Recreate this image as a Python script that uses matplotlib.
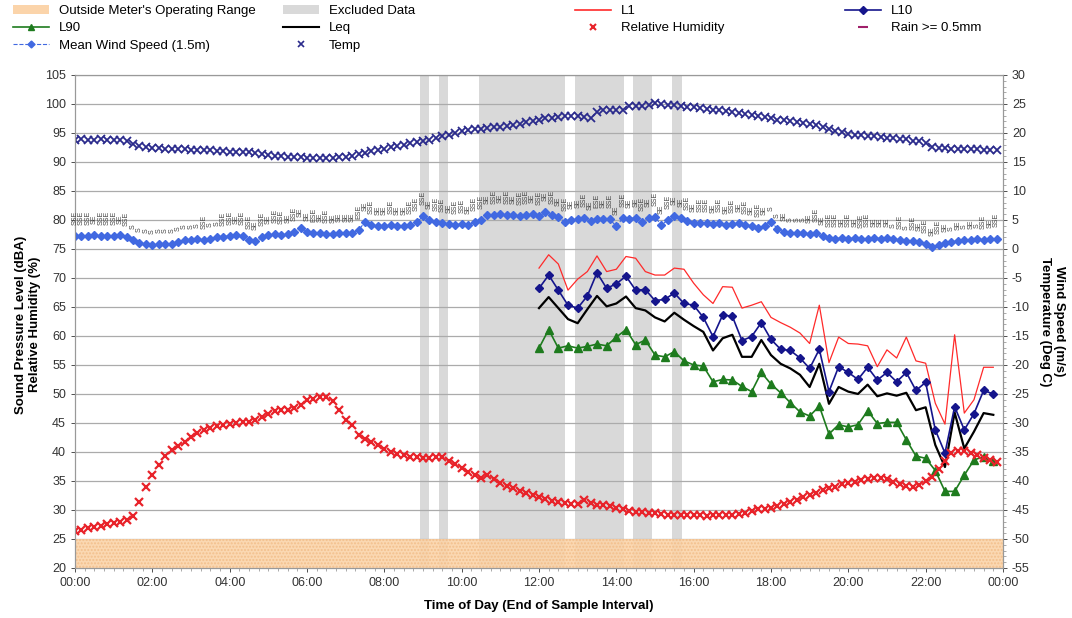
import numpy as np
import matplotlib.pyplot as plt
from matplotlib.patches import Patch
from matplotlib.lines import Line2D

plt.rcParams['font.family'] = ['Liberation Sans', 'DejaVu Sans']
plt.rcParams['axes.unicode_minus'] = False

# 10-minute weather data, 00:00 .. 23:50
temp = [18.8, 18.9, 18.8, 18.8, 18.9, 18.8,
        18.8, 18.8, 18.6, 18.1, 17.7, 17.5,
        17.4, 17.4, 17.3, 17.3, 17.2, 17.2,
        17.1, 17.1, 17.0, 17.0, 16.9, 16.9,
        16.8, 16.8, 16.7, 16.7, 16.6, 16.4,
        16.2, 16.1, 16.0, 15.9, 15.8, 15.8,
        15.7, 15.6, 15.6, 15.6, 15.7, 15.8,
        15.9, 16.1, 16.3, 16.6, 16.9, 17.1,
        17.3, 17.6, 17.8, 18.0, 18.2, 18.4,
        18.6, 18.8, 19.1, 19.4, 19.7, 20.0,
        20.4, 20.5, 20.6, 20.7, 20.9, 21.0,
        21.0, 21.2, 21.4, 21.6, 21.9, 22.1,
        22.3, 22.5, 22.6, 22.8, 22.9, 23.0,
        23.0, 22.8, 22.6, 23.6, 23.9, 24.0,
        24.0, 24.0, 24.6, 24.7, 24.7, 24.8,
        25.1, 25.0, 24.9, 24.8, 24.6, 24.5,
        24.4, 24.3, 24.1, 24.0, 23.9, 23.8,
        23.6, 23.5, 23.3, 23.1, 22.9, 22.7,
        22.5, 22.3, 22.2, 22.0, 21.9, 21.7,
        21.5, 21.3, 21.0, 20.6, 20.4, 20.2,
        19.9, 19.7, 19.6, 19.5, 19.4, 19.3,
        19.2, 19.1, 19.0, 18.9, 18.7, 18.6,
        18.3, 17.6, 17.4, 17.4, 17.3, 17.3,
        17.2, 17.2, 17.2, 17.1, 17.1, 17.1]

humidity = [26.3, 26.6, 26.9, 27.1, 27.3, 27.5,
            27.7, 28.0, 28.3, 29.0, 31.3, 34.0,
            36.0, 37.8, 39.3, 40.3, 41.0, 41.8,
            42.5, 43.2, 43.8, 44.2, 44.4, 44.6,
            44.8, 45.0, 45.1, 45.2, 45.5, 46.0,
            46.5, 47.0, 47.2, 47.3, 47.6, 48.1,
            49.0, 49.2, 49.4, 49.5, 48.7, 47.2,
            45.5, 44.7, 43.0, 42.2, 41.7, 41.2,
            40.5, 40.0, 39.7, 39.4, 39.2, 39.1,
            39.0, 38.9, 39.2, 39.1, 38.5, 38.0,
            37.2, 36.6, 36.0, 35.5, 36.1, 35.3,
            34.6, 34.2, 33.8, 33.3, 32.9, 32.5,
            32.2, 31.9, 31.5, 31.3, 31.2, 31.1,
            31.0, 31.8, 31.2, 30.9, 30.8, 30.7,
            30.3, 30.1, 29.8, 29.7, 29.6, 29.5,
            29.4, 29.3, 29.2, 29.1, 29.1, 29.2,
            29.1, 29.1, 29.0, 29.1, 29.1, 29.2,
            29.2, 29.3, 29.5, 29.8, 30.2, 30.1,
            30.3, 30.6, 31.0, 31.3, 31.7, 32.2,
            32.6, 33.0, 33.4, 33.7, 34.0, 34.4,
            34.7, 34.9, 35.1, 35.3, 35.5, 35.5,
            35.3, 34.8, 34.4, 34.2, 34.0, 34.3,
            35.0, 35.7, 37.0, 38.5, 39.8, 40.1,
            40.2, 39.9, 39.5, 38.9, 38.6, 38.2]

wind = [2.3, 2.3, 2.3, 2.4, 2.3, 2.3,
        2.3, 2.4, 2.1, 1.6, 1.0, 0.8,
        0.7, 0.8, 0.8, 0.9, 1.2, 1.5,
        1.6, 1.7, 1.6, 1.8, 2.0, 2.1,
        2.3, 2.4, 2.2, 1.6, 1.3, 2.0,
        2.4, 2.5, 2.4, 2.6, 3.0, 3.6,
        3.0, 2.8, 2.7, 2.6, 2.6, 2.7,
        2.7, 2.8, 3.2, 4.7, 4.1, 4.0,
        4.0, 4.1, 3.9, 4.0, 4.1, 4.6,
        5.6, 5.0, 4.6, 4.4, 4.3, 4.2,
        4.3, 4.2, 4.6, 5.0, 5.8, 5.9,
        6.0, 5.8, 5.9, 5.6, 5.9, 6.0,
        5.6, 6.4, 5.8, 5.5, 4.7, 5.0,
        5.1, 5.3, 4.8, 5.1, 5.2, 5.1,
        3.9, 5.3, 5.2, 5.4, 4.7, 5.3,
        5.5, 4.1, 5.0, 5.6, 5.4, 4.9,
        4.5, 4.4, 4.4, 4.3, 4.4, 4.2,
        4.3, 4.4, 4.1, 4.0, 3.6, 4.0,
        4.7, 3.5, 2.9, 2.7, 2.7, 2.8,
        2.6, 2.7, 2.2, 1.9, 1.8, 1.9,
        1.8, 1.9, 1.7, 1.8, 1.9, 1.8,
        1.9, 1.7, 1.6, 1.4, 1.3, 1.2,
        0.9, 0.4, 0.7, 1.0, 1.2, 1.4,
        1.5, 1.6, 1.7, 1.6, 1.7, 1.8]

wind_dir = ('SSE SSE SSE SE SSE SSE SSE SE SSE S S S S S S S S S '
            'S S SSE S S SSE SSE SE SSE SSE SE SSE SE SSE SSE SE SSE SE '
            'SE ESE SE SSE SE SE SE SE ESE SE SSE SE SE SSE SE SE SSE SSE '
            'SSE SE SSE SSE SE SSE SSE SE SSE SSE SE SSE SE SSE SE SSE SSE SE '
            'SSE SE SSE SE SSE SE SE SSE SE ESE SE SSE SE SSE SE SE SSE SE '
            'SSE SE SSE SE SE SSE SE SSE SSE SE SSE SE SSE SE SSE SE SSE SE '
            'S S SE S S S SE SSE SE SSE SSE SE SSE SE SSE SSE SE SE '
            'SE S SSE S SSE SE SSE SE SSE SE S SE S SE S SSE SE SSE').split()

# 15-minute noise data, 12:00 .. 23:45
l1 = [71.7, 74.0, 72.4, 67.9, 69.8, 71.1, 73.8, 71.1, 71.5, 73.7, 73.4, 71.1,
      70.5, 70.5, 71.7, 71.5, 69.1, 67.1, 65.6, 68.5, 68.4, 64.8, 65.3, 65.9,
      63.2, 62.3, 61.5, 60.5, 58.7, 65.3, 55.4, 59.8, 58.7, 58.6, 58.3, 54.7,
      57.6, 56.2, 59.8, 55.7, 55.3, 48.4, 44.8, 60.2, 46.7, 49.0, 54.6, 54.6]
l10 = [68.2, 70.5, 67.9, 65.3, 64.8, 66.9, 70.9, 68.2, 69.0, 70.3, 67.9, 68.0,
       66.1, 66.3, 67.4, 65.6, 65.3, 63.2, 59.9, 63.6, 63.4, 59.2, 59.9, 62.3,
       59.4, 57.7, 57.5, 56.2, 54.4, 57.7, 50.4, 54.7, 53.7, 52.5, 54.6, 52.4,
       53.7, 52.1, 53.7, 50.6, 52.0, 43.8, 39.8, 47.8, 43.8, 46.6, 50.6, 50.0]
leq = [64.8, 66.7, 64.8, 62.9, 62.2, 64.6, 66.9, 65.1, 65.6, 66.8, 64.8, 64.4,
       63.2, 62.5, 64.0, 62.8, 61.7, 60.7, 57.5, 59.6, 60.2, 56.4, 56.4, 59.3,
       56.7, 55.2, 54.4, 53.3, 51.2, 55.2, 48.3, 51.2, 50.4, 50.0, 51.6, 49.6,
       50.1, 49.7, 50.2, 47.2, 47.7, 41.2, 37.4, 46.8, 40.6, 43.5, 46.7, 46.4]
l90 = [57.9, 61.1, 57.9, 58.3, 57.9, 58.2, 58.6, 58.3, 59.8, 61.1, 58.5, 59.3,
       56.7, 56.4, 57.3, 55.7, 55.0, 54.8, 52.1, 52.5, 52.4, 51.3, 50.4, 53.7,
       51.7, 50.2, 48.5, 46.9, 46.2, 47.9, 43.1, 44.7, 44.3, 44.7, 47.1, 44.9,
       45.1, 45.1, 42.1, 39.3, 38.9, 36.8, 33.2, 33.2, 36.0, 38.6, 39.2, 38.5]

# excluded periods (hours)
excluded = [(8.92, 9.16), (9.41, 9.65), (10.45, 12.67),
            (12.93, 14.20), (14.43, 14.92), (15.44, 15.70)]

t_met = np.arange(len(temp)) / 6
t_noise = 12 + np.arange(len(l1)) / 4

fig = plt.figure(figsize=(10.72, 6.18), dpi=100)
ax = fig.add_axes([0.070, 0.081, 0.8656, 0.7977])
ax.set_xlim(0, 24)
ax.set_ylim(20, 105)
ax.set_axisbelow(True)
ax.yaxis.grid(True, color='#ababab', lw=0.9)

for a, b in excluded:
    ax.axvspan(a, b, color='#d9d9d9', lw=0, zorder=0.3)
ax.axhspan(20, 25, facecolor='#fbd4aa', edgecolor='#f2bd88', hatch='.....',
           lw=0, alpha=0.9, zorder=0.6)

ax.plot(t_noise, l1, color='#ff2a2a', lw=0.9, zorder=3)
ax.plot(t_noise, leq, color='black', lw=1.6, zorder=3)
ax.plot(t_noise, l10, color='#15158c', lw=1.2, marker='D', ms=4.5, zorder=4)
ax.plot(t_noise, l90, color='#1e7b1e', lw=1.2, marker='^', ms=5.5, zorder=4)
ax.plot(t_met, humidity, ls='none', marker='x', color='#e8232a', ms=5.5, mew=1.6, zorder=5)

ax2 = ax.twinx()
ax2.set_ylim(-55, 30)
ax2.plot(t_met, temp, ls='none', marker='x', color='#2b2b8c', ms=6, mew=1.3)
ax2.plot(t_met, wind, ls='--', lw=0.8, marker='D', ms=3.8, color='#4169e1')
for t, w, d in zip(t_met, wind, wind_dir):
    ax2.text(t, w + 1.9, d, rotation=90, fontsize=5, color='#444444',
             ha='center', va='bottom')

hours = list(range(0, 25, 2))
ax.set_xticks(hours)
ax.set_xticklabels([f'{h % 24:02d}:00' for h in hours])
ax.set_xticks(np.arange(0, 24.01, 0.25), minor=True)
ax.set_yticks(range(20, 106, 5))
ax2.set_yticks(range(-55, 31, 5))
ax2.set_yticks(range(-55, 31, 1), minor=True)

for a in (ax, ax2):
    a.tick_params(labelsize=9, colors='#333333', length=3, width=0.6)
    a.tick_params(which='minor', length=2, width=0.5, colors='#888888')
    for s in a.spines.values():
        s.set_color('#999999')
        s.set_linewidth(0.8)

fig.text(0.026, 0.475, 'Sound Pressure Level (dBA)\nRelative Humidity (%)',
         rotation=90, ha='center', va='center', fontsize=9.5, fontweight='bold')
fig.text(0.981, 0.48, 'Wind Speed (m/s)\nTemperature (Deg C)',
         rotation=270, ha='center', va='center', fontsize=9.5, fontweight='bold')
fig.text(0.503, 0.019, 'Time of Day (End of Sample Interval)',
         ha='center', va='center', fontsize=9.5, fontweight='bold')

# legend, four separate columns
h_range = Patch(facecolor='#fbd4aa', edgecolor='none')
h_excl = Patch(facecolor='#d9d9d9', edgecolor='none')
h_l1 = Line2D([], [], color='#ff2a2a', lw=1.2)
h_l10 = Line2D([], [], color='#15158c', lw=1.2, marker='D', ms=4)
h_l90 = Line2D([], [], color='#1e7b1e', lw=1.2, marker='^', ms=5)
h_leq = Line2D([], [], color='black', lw=1.5)
h_rh = Line2D([], [], ls='none', marker='x', color='#e8232a', ms=5, mew=1.5)
h_rain = Line2D([], [], ls='none', marker='_', color='#a0206a', ms=7, mew=1.5)
h_wind = Line2D([], [], ls='--', lw=0.8, marker='D', ms=3.5, color='#4169e1')
h_temp = Line2D([], [], ls='none', marker='x', color='#2b2b8c', ms=5, mew=1.2)

columns = [
    (13, [h_range, h_l90, h_wind], ["Outside Meter's Operating Range", 'L90', 'Mean Wind Speed (1.5m)']),
    (283, [h_excl, h_leq, h_temp], ['Excluded Data', 'Leq', 'Temp']),
    (575, [h_l1, h_rh], ['L1', 'Relative Humidity']),
    (845, [h_l10, h_rain], ['L10', 'Rain >= 0.5mm']),
]
for x, hs, ls in columns:
    fig.legend(hs, ls, loc='upper left', bbox_to_anchor=(x / 1072, 1 - 5 / 618),
               frameon=False, borderpad=0, borderaxespad=0, handlelength=2.7,
               handletextpad=0.8, labelspacing=0.38, fontsize=9.5)

fig.savefig('out.png', dpi=100)
